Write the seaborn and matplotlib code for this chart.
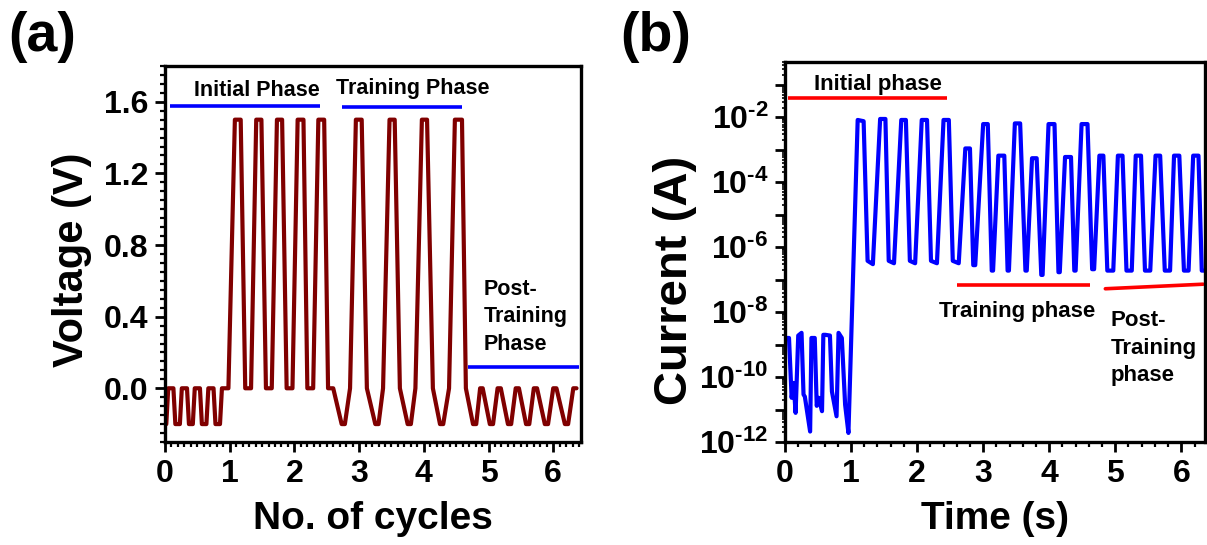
import numpy as np
import pandas as pd
import matplotlib
matplotlib.use("Agg")
import matplotlib.pyplot as plt
import seaborn as sns
from matplotlib.ticker import MultipleLocator, LogLocator, FuncFormatter, NullFormatter

# ---------------- data ----------------
# Panel (a): applied voltage waveform
cycles_a = [0.00, 0.02, 0.05, 0.13, 0.16, 0.23, 0.26, 0.34, 0.37, 0.43, 0.46, 0.54,
            0.57, 0.64, 0.67, 0.75, 0.78, 0.85, 0.88, 0.98, 1.08, 1.17, 1.24, 1.33,
            1.41, 1.49, 1.56, 1.65, 1.73, 1.81, 1.88, 1.97, 2.05, 2.14, 2.20, 2.29,
            2.37, 2.46, 2.52, 2.60, 2.73, 2.78, 2.86, 2.95, 3.04, 3.12, 3.25, 3.30,
            3.37, 3.47, 3.55, 3.63, 3.75, 3.80, 3.87, 3.97, 4.05, 4.14, 4.25, 4.30,
            4.39, 4.48, 4.59, 4.65, 4.76, 4.81, 4.87, 4.91, 5.02, 5.07, 5.14, 5.19,
            5.30, 5.35, 5.42, 5.47, 5.58, 5.63, 5.70, 5.75, 5.87, 5.92, 6.00, 6.05,
            6.18, 6.23, 6.31, 6.36]
voltage_a = [-0.2, -0.2, 0.0, 0.0, -0.2, -0.2, 0.0, 0.0, -0.2, -0.2, 0.0, 0.0,
             -0.2, -0.2, 0.0, 0.0, -0.2, -0.2, 0.0, 0.0, 1.5, 1.5, 0.0, 0.0,
             1.5, 1.5, 0.0, 0.0, 1.5, 1.5, 0.0, 0.0, 1.5, 1.5, 0.0, 0.0,
             1.5, 1.5, 0.0, 0.0, -0.2, -0.2, 0.0, 1.5, 1.5, 0.0, -0.2, -0.2,
             0.0, 1.5, 1.5, 0.0, -0.2, -0.2, 0.0, 1.5, 1.5, 0.0, -0.2, -0.2,
             0.0, 1.5, 1.5, 0.0, -0.2, -0.2, 0.0, 0.0, -0.2, -0.2, 0.0, 0.0,
             -0.2, -0.2, 0.0, 0.0, -0.2, -0.2, 0.0, 0.0, -0.2, -0.2, 0.0, 0.0,
             -0.2, -0.2, 0.0, 0.0]

# Panel (b): measured current
time_b = [0.00, 0.06, 0.10, 0.13, 0.16, 0.20, 0.25, 0.28, 0.30, 0.38, 0.40, 0.45,
          0.48, 0.51, 0.56, 0.58, 0.61, 0.68, 0.71, 0.78, 0.81, 0.86, 0.91, 0.96,
          1.10, 1.19, 1.25, 1.33, 1.44, 1.52, 1.57, 1.65, 1.76, 1.83, 1.89, 1.97,
          2.07, 2.15, 2.21, 2.30, 2.40, 2.48, 2.54, 2.63, 2.73, 2.80, 2.85, 2.88,
          3.00, 3.07, 3.13, 3.15, 3.23, 3.32, 3.37, 3.39, 3.48, 3.56, 3.64, 3.66,
          3.74, 3.81, 3.88, 3.90, 3.99, 4.08, 4.14, 4.16, 4.24, 4.33, 4.38, 4.40,
          4.49, 4.58, 4.65, 4.68, 4.76, 4.82, 4.88, 4.97, 5.04, 5.11, 5.17, 5.25,
          5.31, 5.39, 5.45, 5.53, 5.61, 5.68, 5.75, 5.83, 5.89, 5.97, 6.04, 6.11,
          6.18, 6.26, 6.31, 6.36]
current_b = [1.6e-9, 1.6e-9, 2.3e-11, 6.6e-11, 7.9e-12, 1.9e-9, 2.3e-9, 2.9e-11, 2.5e-11, 2.1e-12, 1.6e-9, 1.6e-9,
             1.3e-11, 2.3e-11, 8.9e-12, 2.0e-9, 2.0e-9, 1.9e-9, 3.6e-11, 6.2e-12, 2.3e-9, 1.6e-9, 1.4e-11, 1.9e-12,
             8.3e-3, 7.6e-3, 3.8e-7, 3.0e-7, 8.9e-3, 8.9e-3, 3.8e-7, 3.2e-7, 8.3e-3, 8.3e-3, 3.8e-7, 3.2e-7,
             8.3e-3, 8.3e-3, 3.8e-7, 3.2e-7, 8.3e-3, 8.3e-3, 3.8e-7, 3.2e-7, 1.1e-3, 1.1e-3, 2.8e-7, 2.8e-7,
             6.2e-3, 6.2e-3, 1.9e-7, 1.9e-7, 6.6e-4, 6.6e-4, 1.9e-7, 1.9e-7, 6.5e-3, 6.5e-3, 1.9e-7, 1.9e-7,
             5.5e-4, 5.5e-4, 1.4e-7, 1.4e-7, 6.2e-3, 6.2e-3, 1.7e-7, 1.7e-7, 6.0e-4, 6.0e-4, 1.9e-7, 1.9e-7,
             6.2e-3, 6.2e-3, 2.1e-7, 2.1e-7, 6.6e-4, 6.6e-4, 1.9e-7, 1.9e-7, 6.6e-4, 6.6e-4, 1.9e-7, 1.9e-7,
             6.6e-4, 6.6e-4, 1.9e-7, 1.9e-7, 6.6e-4, 6.6e-4, 1.9e-7, 1.9e-7, 6.6e-4, 6.6e-4, 1.9e-7, 1.9e-7,
             6.6e-4, 6.6e-4, 1.9e-7, 1.9e-7]

# ---------------- style ----------------
sns.set_style("ticks")
plt.rcParams.update({
    "font.family": ["Liberation Sans", "DejaVu Sans"],
    "font.weight": "bold",
    "axes.labelweight": "bold",
    "text.color": "black",
    "axes.labelcolor": "black",
    "xtick.color": "black",
    "ytick.color": "black",
    "axes.edgecolor": "black",
    "mathtext.fontset": "custom",
    "mathtext.rm": "Liberation Sans:bold",
    "mathtext.bf": "Liberation Sans:bold",
    "mathtext.it": "Liberation Sans:bold",
    "mathtext.sf": "Liberation Sans:bold",
})

fig = plt.figure(figsize=(12.07, 5.45), dpi=100)
axa = fig.add_axes([0.1367, 0.189, 0.3447, 0.690])
axb = fig.add_axes([0.6504, 0.189, 0.348, 0.697])

df_a = pd.DataFrame({"cycle": cycles_a, "voltage": voltage_a})
df_b = pd.DataFrame({"time": time_b, "current": current_b})

sns.lineplot(data=df_a, x="cycle", y="voltage", ax=axa, color="#800000",
             lw=3, sort=False, estimator=None)
axb.set_yscale("log")
sns.lineplot(data=df_b, x="time", y="current", ax=axb, color="#0000ff",
             lw=3, sort=False, estimator=None)

def style_axes(ax):
    for s in ax.spines.values():
        s.set_linewidth(2.4)
        s.set_color("black")
        s.set_visible(True)
    ax.tick_params(axis="both", which="major", direction="out", length=7,
                   width=2, labelsize=23, pad=5, top=False, right=False,
                   bottom=True, left=True, color="black", labelcolor="black")
    ax.tick_params(axis="both", which="minor", direction="out", length=3.5,
                   width=1.6, top=False, right=False, bottom=True, left=True,
                   color="black")

# Panel (a)
axa.set_xlim(0, 6.43)
axa.set_ylim(-0.30, 1.80)
axa.xaxis.set_major_locator(MultipleLocator(1))
axa.xaxis.set_minor_locator(MultipleLocator(0.1))
axa.yaxis.set_major_locator(MultipleLocator(0.4))
axa.yaxis.set_minor_locator(MultipleLocator(0.05))
axa.yaxis.set_major_formatter(FuncFormatter(lambda v, p: f"{v:.1f}"))
style_axes(axa)
axa.set_xlabel("No. of cycles", fontsize=28)
axa.set_ylabel("Voltage (V)", fontsize=30)
axa.xaxis.set_label_coords(0.5, -0.158)
axa.yaxis.set_label_coords(-0.176, 0.484)

axa.hlines(1.575, 0.08, 2.39, color="#0000ff", lw=2.6)
axa.hlines(1.57, 2.73, 4.59, color="#0000ff", lw=2.6)
axa.hlines(0.117, 4.68, 6.40, color="#0000ff", lw=2.6)
axa.text(1.42, 1.665, "Initial Phase", ha="center", va="center", fontsize=15.5)
axa.text(3.83, 1.675, "Training Phase", ha="center", va="center", fontsize=15.5)
axa.text(4.92, 0.40, "Post-\nTraining\nPhase", ha="left", va="center",
         fontsize=15.5, linespacing=1.4)

# Panel (b)
axb.set_xlim(0, 6.36)
axb.set_ylim(1e-12, 10 ** -0.3)
axb.xaxis.set_major_locator(MultipleLocator(1))
axb.xaxis.set_minor_locator(MultipleLocator(0.2))
axb.yaxis.set_major_locator(LogLocator(base=10, numticks=30))
axb.yaxis.set_minor_locator(LogLocator(base=10, subs=np.arange(2, 10), numticks=30))
axb.yaxis.set_minor_formatter(NullFormatter())

def logfmt(v, p):
    e = int(round(np.log10(v)))
    if e % 2 == 0:
        return r"$\mathbf{10}^{\mathbf{\text{-}%d}}$" % abs(e) if e < 0 else r"$\mathbf{10}^{\mathbf{%d}}$" % e
    return ""

axb.yaxis.set_major_formatter(FuncFormatter(logfmt))
style_axes(axb)
axb.tick_params(axis="y", which="minor", length=2.5, width=1.2)
axb.set_xlabel("Time (s)", fontsize=28)
axb.set_ylabel("Current (A)", fontsize=34)
axb.xaxis.set_label_coords(0.5, -0.156)
axb.yaxis.set_label_coords(-0.210, 0.426)

axb.hlines(10 ** -1.41, 0.045, 2.45, color="#ff0000", lw=2.6)
axb.hlines(10 ** -7.16, 2.61, 4.62, color="#ff0000", lw=2.6)
axb.plot([4.85, 6.33], [10 ** -7.28, 10 ** -7.14], color="#ff0000", lw=2.6)
axb.text(1.41, 10 ** -1.0, "Initial phase", ha="center", va="center", fontsize=16)
axb.text(3.52, 10 ** -7.97, "Training phase", ha="center", va="center", fontsize=16)
axb.text(4.93, 10 ** -9.11, "Post-\nTraining\nphase", ha="left", va="center",
         fontsize=16, linespacing=1.4)

fig.text(0.035, 0.932, "(a)", fontsize=40, ha="center", va="center")
fig.text(0.543, 0.932, "(b)", fontsize=40, ha="center", va="center")

fig.savefig("out.png", dpi=100)
